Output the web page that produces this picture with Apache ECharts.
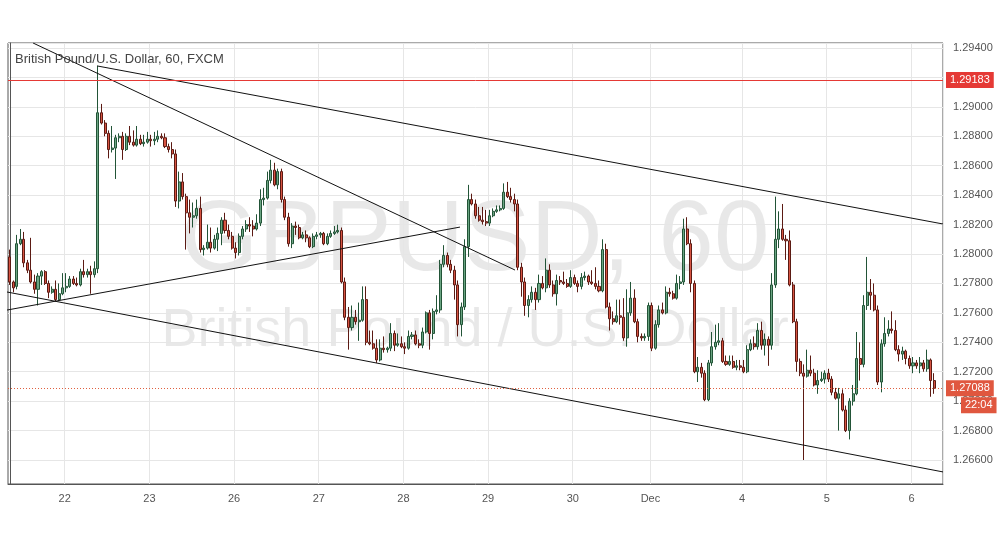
<!DOCTYPE html>
<html><head><meta charset="utf-8">
<script src="https://cdn.jsdelivr.net/npm/echarts@6/dist/echarts.min.js"></script>
<style>html,body{margin:0;padding:0;background:#fff}#c{width:1002px;height:547px}</style>
</head><body><div id="c"></div>
<script>
// Day labels on the time axis and the candle index where each day starts
const dayNames  = ['22','23','26','27','28','29','30','Dec','4','5','6'];
const dayStarts = [16, 40, 64, 88, 112, 136, 160, 182, 208, 232, 256];
const slotCount = 265; // hourly slots across the pane (last two empty)

// Hourly OHLC (GBP/USD, 60 min)
const opens = [1.2798,1.2781,1.2778,1.2807,1.2810,1.2794,1.2789,1.2781,1.2776,1.2785,1.2788,1.2780,1.2774,1.2776,1.2769,1.2773,1.2777,1.2778,1.2783,1.2780,1.2779,1.2788,1.2786,1.2788,1.2786,1.2790,1.2896,1.2889,1.2882,1.2871,1.2872,1.2879,1.2880,1.2871,1.2880,1.2876,1.2874,1.2878,1.2875,1.2876,1.2878,1.2877,1.2878,1.2880,1.2879,1.2873,1.2871,1.2868,1.2836,1.2849,1.2839,1.2828,1.2825,1.2826,1.2831,1.2803,1.2804,1.2808,1.2804,1.2810,1.2814,1.2823,1.2816,1.2812,1.2804,1.2801,1.2812,1.2817,1.2820,1.2819,1.2817,1.2821,1.2837,1.2838,1.2850,1.2857,1.2847,1.2856,1.2837,1.2825,1.2807,1.2819,1.2818,1.2811,1.2813,1.2811,1.2805,1.2812,1.2813,1.2814,1.2807,1.2812,1.2814,1.2815,1.2816,1.2781,1.2757,1.2750,1.2757,1.2754,1.2755,1.2769,1.2740,1.2739,1.2736,1.2728,1.2736,1.2735,1.2736,1.2746,1.2738,1.2739,1.2737,1.2736,1.2744,1.2745,1.2739,1.2738,1.2747,1.2760,1.2746,1.2761,1.2762,1.2793,1.2799,1.2793,1.2789,1.2779,1.2752,1.2764,1.2805,1.2837,1.2834,1.2826,1.2823,1.2822,1.2821,1.2826,1.2829,1.2830,1.2831,1.2842,1.2839,1.2837,1.2834,1.2791,1.2781,1.2765,1.2769,1.2774,1.2769,1.2780,1.2777,1.2789,1.2779,1.2773,1.2782,1.2781,1.2780,1.2778,1.2784,1.2780,1.2778,1.2784,1.2785,1.2781,1.2780,1.2778,1.2775,1.2803,1.2764,1.2756,1.2754,1.2758,1.2757,1.2743,1.2760,1.2770,1.2754,1.2744,1.2743,1.2744,1.2765,1.2736,1.2752,1.2762,1.2760,1.2774,1.2773,1.2770,1.2780,1.2781,1.2817,1.2807,1.2780,1.2720,1.2723,1.2719,1.2701,1.2726,1.2737,1.2740,1.2741,1.2727,1.2725,1.2727,1.2723,1.2724,1.2723,1.2720,1.2735,1.2739,1.2737,1.2748,1.2738,1.2742,1.2738,1.2779,1.2810,1.2817,1.2810,1.2809,1.2779,1.2754,1.2727,1.2719,1.2717,1.2721,1.2719,1.2711,1.2714,1.2715,1.2719,1.2715,1.2706,1.2702,1.2705,1.2694,1.2680,1.2700,1.2705,1.2729,1.2725,1.2765,1.2774,1.2772,1.2762,1.2713,1.2739,1.2746,1.2749,1.2748,1.2735,1.2732,1.2734,1.2729,1.2724,1.2726,1.2724,1.2726,1.2722,1.2728,1.2714];
const closes = [1.2781,1.2777,1.2807,1.2810,1.2794,1.2789,1.2781,1.2776,1.2785,1.2788,1.2780,1.2774,1.2776,1.2769,1.2773,1.2777,1.2778,1.2783,1.2780,1.2779,1.2788,1.2786,1.2788,1.2786,1.2790,1.2896,1.2889,1.2882,1.2871,1.2872,1.2879,1.2880,1.2871,1.2880,1.2876,1.2874,1.2878,1.2875,1.2876,1.2878,1.2877,1.2878,1.2880,1.2879,1.2873,1.2871,1.2868,1.2836,1.2849,1.2839,1.2828,1.2825,1.2826,1.2831,1.2803,1.2804,1.2808,1.2804,1.2810,1.2814,1.2823,1.2816,1.2812,1.2804,1.2801,1.2812,1.2817,1.2820,1.2819,1.2817,1.2821,1.2837,1.2838,1.2850,1.2857,1.2847,1.2856,1.2837,1.2825,1.2807,1.2819,1.2818,1.2811,1.2813,1.2811,1.2805,1.2812,1.2813,1.2814,1.2807,1.2812,1.2814,1.2815,1.2816,1.2781,1.2757,1.2750,1.2757,1.2754,1.2755,1.2769,1.2740,1.2739,1.2736,1.2728,1.2736,1.2735,1.2736,1.2746,1.2738,1.2739,1.2737,1.2736,1.2744,1.2745,1.2739,1.2738,1.2747,1.2760,1.2746,1.2761,1.2762,1.2793,1.2799,1.2793,1.2789,1.2779,1.2752,1.2764,1.2805,1.2837,1.2834,1.2826,1.2823,1.2822,1.2821,1.2826,1.2829,1.2830,1.2831,1.2842,1.2839,1.2837,1.2834,1.2791,1.2781,1.2765,1.2769,1.2774,1.2769,1.2780,1.2777,1.2789,1.2779,1.2773,1.2782,1.2781,1.2780,1.2778,1.2784,1.2780,1.2778,1.2784,1.2785,1.2781,1.2780,1.2778,1.2775,1.2803,1.2764,1.2756,1.2754,1.2758,1.2757,1.2743,1.2760,1.2770,1.2754,1.2744,1.2743,1.2744,1.2765,1.2736,1.2752,1.2762,1.2760,1.2774,1.2773,1.2770,1.2780,1.2781,1.2817,1.2807,1.2780,1.2720,1.2723,1.2719,1.2701,1.2726,1.2737,1.2740,1.2741,1.2727,1.2725,1.2727,1.2723,1.2724,1.2723,1.2720,1.2735,1.2739,1.2737,1.2748,1.2738,1.2742,1.2738,1.2779,1.2810,1.2817,1.2810,1.2809,1.2779,1.2754,1.2727,1.2719,1.2717,1.2721,1.2719,1.2711,1.2714,1.2715,1.2719,1.2715,1.2706,1.2702,1.2705,1.2694,1.2680,1.2700,1.2705,1.2729,1.2725,1.2765,1.2774,1.2772,1.2762,1.2713,1.2739,1.2746,1.2749,1.2748,1.2735,1.2732,1.2734,1.2729,1.2724,1.2726,1.2724,1.2726,1.2722,1.2728,1.2714,1.27088];
const lows = [1.2779,1.2774,1.2776,1.2806,1.2791,1.2787,1.2780,1.2773,1.2765,1.2779,1.2779,1.2770,1.2773,1.2768,1.2768,1.2772,1.2774,1.2777,1.2779,1.2778,1.2778,1.2784,1.2784,1.2773,1.2784,1.2787,1.2888,1.2880,1.2865,1.2869,1.2851,1.2876,1.2864,1.2870,1.2874,1.2873,1.2873,1.2874,1.2873,1.2875,1.2873,1.2874,1.2876,1.2878,1.2872,1.2869,1.2865,1.2832,1.2831,1.2837,1.2803,1.2814,1.2818,1.2824,1.2801,1.2799,1.2803,1.2801,1.2803,1.2802,1.2806,1.2814,1.2810,1.2803,1.2797,1.2799,1.2810,1.2815,1.2815,1.2812,1.2816,1.2819,1.2833,1.2837,1.2848,1.2846,1.2844,1.2835,1.2823,1.2805,1.2804,1.2813,1.2810,1.2810,1.2808,1.2804,1.2804,1.2810,1.2811,1.2806,1.2806,1.2811,1.2813,1.2814,1.2780,1.2755,1.2735,1.2748,1.2752,1.2741,1.2754,1.2738,1.2738,1.2735,1.2726,1.2727,1.2733,1.2733,1.2734,1.2734,1.2737,1.2736,1.2732,1.2735,1.2742,1.2738,1.2736,1.2736,1.2746,1.2735,1.2742,1.2759,1.2760,1.2791,1.2791,1.2787,1.2769,1.2744,1.2744,1.2762,1.2798,1.2833,1.2824,1.2822,1.2820,1.2819,1.2819,1.2825,1.2828,1.2829,1.2830,1.2838,1.2835,1.2829,1.2789,1.2771,1.2758,1.2757,1.2767,1.2762,1.2767,1.2776,1.2774,1.2777,1.2771,1.2765,1.2779,1.2779,1.2777,1.2777,1.2779,1.2774,1.2776,1.2782,1.2779,1.2779,1.2776,1.2774,1.2774,1.2763,1.2748,1.2752,1.2753,1.2752,1.2741,1.2737,1.2758,1.2753,1.2740,1.2741,1.2741,1.2741,1.2734,1.2735,1.2750,1.2759,1.2759,1.2771,1.2769,1.2769,1.2776,1.2779,1.2806,1.2774,1.2719,1.2713,1.2716,1.2700,1.2700,1.2724,1.2735,1.2738,1.2726,1.2724,1.2724,1.2722,1.2721,1.2721,1.2719,1.2719,1.2734,1.2735,1.2735,1.2735,1.2731,1.2724,1.2735,1.2777,1.2804,1.2809,1.2796,1.2778,1.2753,1.2720,1.2717,1.2660,1.2716,1.2717,1.2710,1.2705,1.2713,1.2712,1.2713,1.2704,1.2701,1.2680,1.2693,1.2679,1.2674,1.2697,1.2704,1.2714,1.2723,1.2762,1.2762,1.2761,1.2711,1.2706,1.2737,1.2744,1.2746,1.2734,1.2727,1.2728,1.2725,1.2722,1.2719,1.2722,1.2719,1.2720,1.2720,1.2703,1.2705];
const highs = [1.2803,1.2782,1.2813,1.2817,1.2815,1.2796,1.2811,1.2786,1.2787,1.2789,1.2789,1.2782,1.2778,1.2782,1.2780,1.2787,1.2787,1.2785,1.2785,1.2784,1.2790,1.2796,1.2790,1.2792,1.2795,1.2928,1.2902,1.2891,1.2884,1.2887,1.2881,1.2882,1.2883,1.2882,1.2887,1.2884,1.2887,1.2881,1.2881,1.2883,1.2881,1.2883,1.2884,1.2882,1.2882,1.2875,1.2876,1.2871,1.2856,1.2855,1.2841,1.2837,1.2835,1.2837,1.2839,1.2806,1.2820,1.2818,1.2813,1.2818,1.2825,1.2828,1.2820,1.2815,1.2808,1.2814,1.2819,1.2823,1.2825,1.2823,1.2827,1.2844,1.2845,1.2856,1.2864,1.2862,1.2858,1.2858,1.2839,1.2828,1.2821,1.2822,1.2820,1.2815,1.2816,1.2812,1.2814,1.2815,1.2815,1.2815,1.2814,1.2816,1.2819,1.2820,1.2818,1.2784,1.2764,1.2765,1.2762,1.2767,1.2778,1.2778,1.2748,1.2748,1.2742,1.2742,1.2744,1.2737,1.2753,1.2748,1.2746,1.2744,1.2740,1.2748,1.2747,1.2748,1.2742,1.2750,1.2761,1.2762,1.2763,1.2772,1.2796,1.2806,1.2801,1.2796,1.2792,1.2782,1.2767,1.2810,1.2847,1.2841,1.2837,1.2832,1.2832,1.2830,1.2830,1.2831,1.2833,1.2833,1.2848,1.2849,1.2845,1.2841,1.2837,1.2794,1.2784,1.2772,1.2778,1.2777,1.2786,1.2785,1.2797,1.2793,1.2782,1.2786,1.2785,1.2788,1.2783,1.2789,1.2786,1.2782,1.2787,1.2788,1.2786,1.2789,1.2791,1.2782,1.2810,1.2807,1.2767,1.2761,1.2769,1.2769,1.2770,1.2776,1.2781,1.2776,1.2756,1.2746,1.2746,1.2767,1.2767,1.2755,1.2765,1.2767,1.2778,1.2777,1.2775,1.2786,1.2785,1.2824,1.2825,1.2810,1.2782,1.2730,1.2726,1.2721,1.2728,1.2747,1.2752,1.2753,1.2743,1.2731,1.2731,1.2731,1.2728,1.2728,1.2728,1.2738,1.2742,1.2744,1.2753,1.2754,1.2746,1.2744,1.2787,1.2839,1.2829,1.2834,1.2813,1.2816,1.2781,1.2756,1.2729,1.2725,1.2735,1.2731,1.2722,1.2721,1.2720,1.2721,1.2722,1.2717,1.2709,1.2709,1.2708,1.2697,1.2702,1.2711,1.2747,1.2740,1.2772,1.2798,1.2783,1.2780,1.2765,1.2742,1.2757,1.2755,1.2761,1.2755,1.2738,1.2737,1.2735,1.2731,1.2730,1.2728,1.2730,1.2728,1.2735,1.2729,1.2719];

// Horizontal levels and hand-drawn trend lines: [startSlot, startPrice, endSlot, endPrice]
const resistanceLevel = 1.29183;
const lastPrice = 1.27088;
const countdown = '22:04';
const trendLines = [
  [6.6, 1.29434, 143.2, 1.27891],
  [24.8, 1.29278, 264.5, 1.28204],
  [-0.8, 1.27619, 127.6, 1.28183],
  [-0.8, 1.27742, 264.5, 1.26519]
];
const yMin = 1.26437, yMax = 1.29434;

const cats = [];
for (let i = 0; i < slotCount; i++) {
  let d = -1;
  for (let k = 0; k < dayStarts.length; k++) if (i >= dayStarts[k]) d = k;
  cats.push((d < 0 ? '21' : dayNames[d]) + ' #' + (d < 0 ? i : i - dayStarts[d]));
}
const candles = opens.map((o, i) => [o, closes[i], lows[i], highs[i]]);
while (candles.length < slotCount) candles.push('-');
const isDay = i => dayStarts.indexOf(i) >= 0;

const chart = echarts.init(document.getElementById('c'), null, {renderer: 'canvas'});
const axisColor = '#555555';
const FONT = 'Liberation Sans, Arial, sans-serif';
const boxLabel = (text, extra) => Object.assign({
  show: true, position: 'end', distance: 3, formatter: text, color: '#fff',
  backgroundColor: '#e0573f', padding: [3, 4, 2, 4], fontSize: 11, fontFamily: FONT
}, extra || {});
chart.setOption({
  animation: false,
  backgroundColor: '#ffffff',
  grid: {left: 8, right: 59, top: 43, bottom: 63, show: true, borderColor: axisColor, borderWidth: 1, backgroundColor: 'transparent'},
  xAxis: [{
    type: 'category', data: cats, boundaryGap: true,
    axisLine: {show: true, lineStyle: {color: axisColor}},
    axisTick: {show: false},
    axisLabel: {interval: (i) => isDay(i), formatter: v => v.split(' ')[0], color: '#555', fontSize: 11, margin: 9, padding: [0, 3, 0, 0], fontFamily: FONT},
    splitLine: {show: true, interval: (i) => isDay(i), lineStyle: {color: '#e6e6e6', width: 1}}
  }, {
    type: 'value', min: -0.5, max: slotCount - 0.5, show: false
  }],
  yAxis: {
    type: 'value', position: 'right', min: yMin, max: yMax, splitNumber: 15, scale: true,
    axisLine: {show: true, lineStyle: {color: axisColor}},
    axisTick: {show: false},
    axisLabel: {color: '#555', fontSize: 11, margin: 10, showMinLabel: false, showMaxLabel: false, formatter: v => v.toFixed(5), fontFamily: FONT},
    splitLine: {show: true, lineStyle: {color: '#e6e6e6', width: 1}}
  },
  graphic: [
    {type: 'text', x: 475, y: 192, z: -10, silent: true,
      style: {text: 'GBPUSD, 60', fill: 'rgba(0,0,0,0.09)', font: '100px "Liberation Sans", Arial, sans-serif', textAlign: 'center', textVerticalAlign: 'top'}},
    {type: 'text', x: 475, y: 304, z: -10, silent: true,
      style: {text: 'British Pound / U.S. Dollar', fill: 'rgba(0,0,0,0.09)', font: '54px "Liberation Sans", Arial, sans-serif', textAlign: 'center', textVerticalAlign: 'top'}},
    {type: 'text', left: 15, top: 53, z: 100, silent: true,
      style: {text: 'British Pound/U.S. Dollar, 60, FXCM', fill: '#444', font: '13px "Liberation Sans", Arial, sans-serif'}}
  ],
  series: [{
    type: 'candlestick', name: 'GBPUSD', data: candles, barWidth: '72%',
    itemStyle: {color: '#6ba583', color0: '#d75442', borderColor: '#225437', borderColor0: '#5b1a13', borderWidth: 1},
    markLine: {
      silent: true, symbol: ['none', 'none'], animation: false, precision: 5,
      data: [
        {yAxis: resistanceLevel, lineStyle: {color: '#e53935', width: 1, type: 'solid'},
          label: boxLabel(resistanceLevel.toFixed(5), {backgroundColor: '#e53935'})},
        {yAxis: lastPrice, lineStyle: {color: '#e0603f', width: 1, type: [1, 2]},
          label: boxLabel(lastPrice.toFixed(5))},
        {yAxis: lastPrice - 0.00001, lineStyle: {color: 'rgba(0,0,0,0)', width: 0},
          label: boxLabel(countdown, {offset: [15, 17]})}
      ]
    }
  }].concat(trendLines.map(t => ({
    type: 'line', xAxisIndex: 1, data: [[t[0], t[1]], [t[2], t[3]]], symbol: 'none', silent: true,
    lineStyle: {color: '#111', width: 1}, z: 4
  })))
});
</script></body></html>
